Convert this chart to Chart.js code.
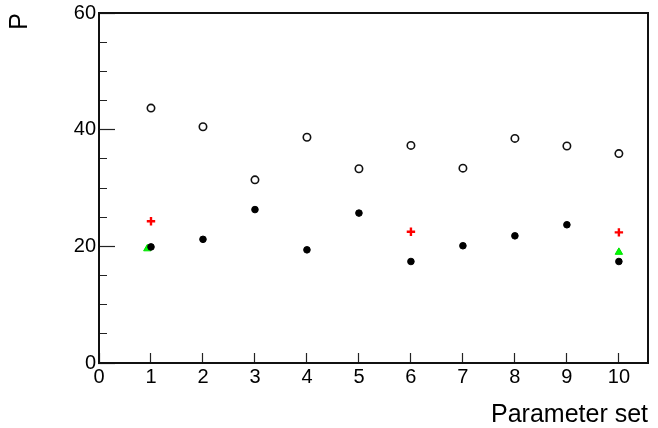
<!DOCTYPE html>
<html>
<head>
<meta charset="utf-8">
<title>P vs parameter set</title>
<script src="https://cdn.jsdelivr.net/npm/chart.js@4.4.1/dist/chart.umd.min.js"></script>
<style>
  html, body { margin: 0; padding: 0; background: #fff; }
  #wrap { width: 658px; height: 428px; position: relative; }
</style>
</head>
<body>
<div id="wrap"><canvas id="chartP"></canvas></div>
<script>
// values
const paramSets = [1, 2, 3, 4, 5, 6, 7, 8, 9, 10];
const openValues = [43.7, 40.5, 31.4, 38.7, 33.3, 37.3, 33.4, 38.5, 37.2, 35.9];
const filledValues = [19.9, 21.2, 26.3, 19.4, 25.7, 17.4, 20.1, 21.8, 23.7, 17.4];
const crossSets = [1, 6, 10];
const crossValues = [24.3, 22.5, 22.4];
const triangleSets = [0.93, 10];
const triangleValues = [19.6, 19.0];
const xTickValues = [0, 1, 2, 3, 4, 5, 6, 7, 8, 9, 10];
const yMajorTicks = [0, 20, 40, 60];

const toPoints = (xs, ys) => xs.map((x, i) => ({ x: x, y: ys[i] }));

// top and right sides of the frame
const framePlugin = {
    id: 'frame',
    afterDraw(chart) {
        const { ctx, chartArea } = chart;
        ctx.save();
        ctx.strokeStyle = '#111';
        ctx.lineWidth = 2;
        ctx.beginPath();
        ctx.moveTo(chartArea.left, chartArea.top);
        ctx.lineTo(chartArea.right, chartArea.top);
        ctx.lineTo(chartArea.right, chartArea.bottom);
        ctx.stroke();
        ctx.restore();
    }
};

const ctx = document.getElementById('chartP').getContext('2d');

new Chart(ctx, {
    type: 'scatter',
    data: {
        datasets: [
            {
                label: 'open',
                data: toPoints(paramSets, openValues),
                pointStyle: 'circle',
                pointRadius: 3.7,
                borderWidth: 1.6,
                borderColor: '#111',
                backgroundColor: 'rgba(255,255,255,0)',
                order: 0
            },
            {
                label: 'filled',
                data: toPoints(paramSets, filledValues),
                pointStyle: 'circle',
                pointRadius: 3.3,
                borderWidth: 1,
                borderColor: '#000',
                backgroundColor: '#000',
                order: 1
            },
            {
                label: 'cross',
                data: toPoints(crossSets, crossValues),
                pointStyle: 'cross',
                pointRadius: 4.2,
                borderWidth: 2.4,
                borderColor: '#ff0000',
                backgroundColor: '#ff0000',
                order: 2
            },
            {
                label: 'triangle',
                data: toPoints(triangleSets, triangleValues),
                pointStyle: 'triangle',
                pointRadius: 4.3,
                borderWidth: 1,
                borderColor: '#00e000',
                backgroundColor: '#00ff00',
                order: 3
            }
        ]
    },
    options: {
        responsive: true,
        maintainAspectRatio: false,
        devicePixelRatio: 1,
        animation: false,
        events: [],
        layout: {
            padding: { top: 13, right: 10, left: 0, bottom: 0 }
        },
        plugins: {
            legend: { display: false },
            tooltip: { enabled: false }
        },
        scales: {
            x: {
                type: 'linear',
                min: 0,
                max: 10.56,
                afterFit: (scale) => {
                    scale.height = 65;
                    scale.paddingLeft = 0;
                    scale.paddingRight = 0;
                },
                afterBuildTicks: (scale) => {
                    scale.ticks = xTickValues.map(v => ({ value: v }));
                },
                border: { display: true, color: '#111', width: 2 },
                grid: {
                    display: true,
                    drawOnChartArea: false,
                    drawTicks: true,
                    tickLength: -10,
                    tickColor: '#222',
                    tickWidth: 1.2
                },
                ticks: {
                    includeBounds: false,
                    autoSkip: false,
                    maxRotation: 0,
                    padding: 12,
                    color: '#000',
                    font: { family: 'Liberation Sans', size: 20 }
                },
                title: {
                    display: true,
                    text: 'Parameter set',
                    align: 'end',
                    color: '#000',
                    font: { family: 'Liberation Sans', size: 25, lineHeight: 1 },
                    padding: { top: 0, bottom: 0 }
                }
            },
            y: {
                type: 'linear',
                min: 0,
                max: 60,
                afterFit: (scale) => {
                    scale.width = 99;
                    scale.paddingTop = 0;
                    scale.paddingBottom = 0;
                },
                border: { display: true, color: '#111', width: 2 },
                grid: {
                    display: true,
                    drawOnChartArea: false,
                    drawTicks: true,
                    tickLength: -16,
                    tickColor: '#222',
                    tickWidth: 1.2,
                    // tick line runs from inside the plot back to the axis;
                    // minor ticks keep only the 8px next to the axis
                    tickBorderDash: (c) => yMajorTicks.includes(c.tick.value) ? [] : [0, 8, 8, 100]
                },
                ticks: {
                    stepSize: 5,
                    includeBounds: false,
                    autoSkip: false,
                    padding: 19,
                    color: '#000',
                    font: { family: 'Liberation Sans', size: 20 },
                    callback: (v) => yMajorTicks.includes(v) ? String(v) : ''
                },
                title: {
                    display: true,
                    text: 'P',
                    align: 'end',
                    color: '#000',
                    font: { family: 'Liberation Sans', size: 25, lineHeight: 1 },
                    padding: { top: 7.5, bottom: 0 }
                }
            }
        }
    },
    plugins: [framePlugin]
});
</script>
</body>
</html>
